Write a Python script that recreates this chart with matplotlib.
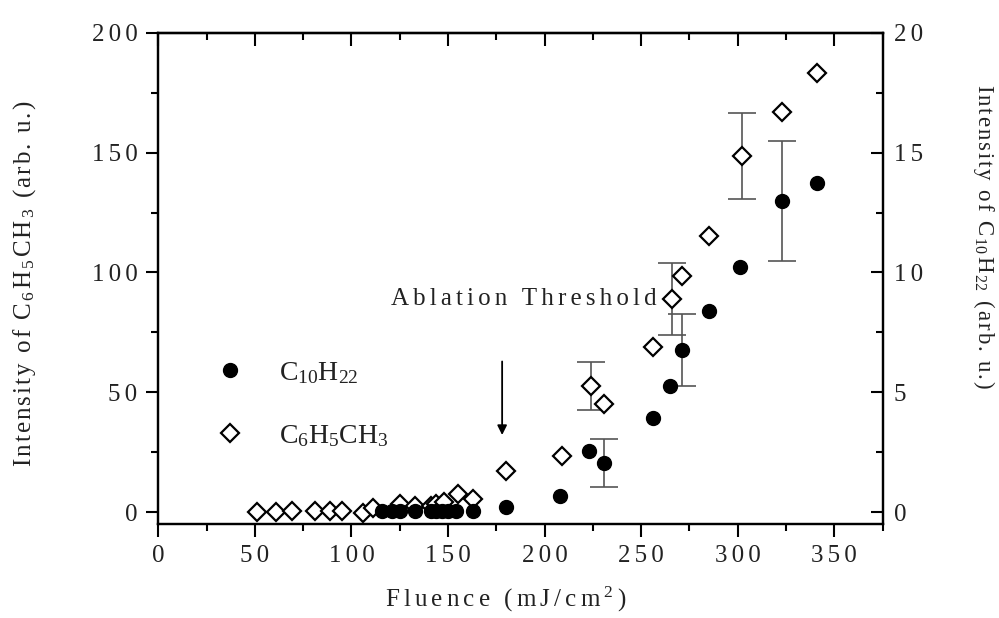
import matplotlib.pyplot as plt
from matplotlib.ticker import MultipleLocator, FuncFormatter

plt.rcParams['font.family'] = ['Liberation Serif', 'DejaVu Serif']
plt.rcParams['mathtext.default'] = 'regular'

# C6H5CH3 (left axis)
tol_x = [51, 61, 69, 81, 89, 95, 106, 111, 125, 133, 141, 144, 148, 155, 163,
         180, 209, 224, 231, 256, 266, 271, 285, 302, 323, 341]
tol_y = [0, 0, 0.5, 0.5, 0.5, 0.5, -0.5, 1.5, 3.5, 2.5, 2.5, 3.5, 4, 7.5, 5.5,
         17, 23.5, 52.5, 45, 69, 89, 98.5, 115, 148.5, 167, 183]
tol_err_x = [224, 266, 302]
tol_err_y = [52.5, 89, 148.5]
tol_err = [10, 15, 18]

# C10H22 (right axis)
dec_x = [116, 121, 125, 133, 141, 144, 147, 150, 154, 163,
         180, 208, 223, 231, 256, 265, 271, 285, 301, 323, 341]
dec_y = [0.05, 0.05, 0.05, 0.05, 0.05, 0.05, 0.05, 0.05, 0.05, 0.05,
         0.22, 0.66, 2.53, 2.03, 3.93, 5.25, 6.78, 8.38, 10.22, 12.98, 13.75]
dec_err_x = [231, 271, 323]
dec_err_y = [2.03, 6.78, 12.98]
dec_err = [1.0, 1.5, 2.5]

txt = '#222222'


def spaced(s, gap='\u2006'):
    # wide letter spacing like the scanned figure; math parts kept whole
    parts = s.split('$')
    out = []
    for i, p in enumerate(parts):
        if not p:
            continue
        if i % 2:
            out.append('$' + p + '$')
        else:
            out.append(gap.join(p))
    return gap.join(out)


fig = plt.figure(figsize=(9.99, 6.18), dpi=100)
ax = fig.add_axes([0.1585, 0.152, 0.725, 0.795])
ax2 = ax.twinx()

ax.errorbar(tol_err_x, tol_err_y, yerr=tol_err, fmt='none', ecolor='#555555',
            elinewidth=1.2, capsize=10, capthick=1.2, zorder=2)
ax.plot(tol_x, tol_y, 'D', ms=9, mfc='white', mec='black', mew=1.6, zorder=3)

ax2.errorbar(dec_err_x, dec_err_y, yerr=dec_err, fmt='none', ecolor='#555555',
             elinewidth=1.2, capsize=10, capthick=1.2, zorder=2)
ax2.plot(dec_x, dec_y, 'o', ms=10, mfc='black', mec='black', zorder=3)

ax.set_xlim(0, 375)
ax.set_ylim(-5, 200)
ax2.set_ylim(-0.5, 20)

ax.xaxis.set_major_locator(MultipleLocator(50))
ax.xaxis.set_minor_locator(MultipleLocator(25))
ax.yaxis.set_major_locator(MultipleLocator(50))
ax.yaxis.set_minor_locator(MultipleLocator(25))
ax2.yaxis.set_major_locator(MultipleLocator(5))
ax2.yaxis.set_minor_locator(MultipleLocator(2.5))

fmt = FuncFormatter(lambda v, pos: spaced('%d' % v))
ax.xaxis.set_major_formatter(fmt)
ax.yaxis.set_major_formatter(fmt)
ax2.yaxis.set_major_formatter(fmt)

ax.tick_params(which='both', direction='out', width=1.5, labelsize=18,
               labelcolor=txt, pad=6)
ax.tick_params(which='major', length=9)
ax.tick_params(which='minor', length=5)
ax2.tick_params(which='both', direction='in', width=1.5, labelsize=18,
                labelcolor=txt, pad=8)
ax2.tick_params(which='major', length=9)
ax2.tick_params(which='minor', length=5)

top = ax.secondary_xaxis('top')
top.xaxis.set_major_locator(MultipleLocator(50))
top.xaxis.set_minor_locator(MultipleLocator(25))
top.tick_params(which='both', direction='in', width=1.5, labeltop=False)
top.tick_params(which='major', length=9)
top.tick_params(which='minor', length=5)

for a in (ax, ax2):
    for s in a.spines.values():
        s.set_linewidth(1.6)
top.spines['top'].set_linewidth(1.6)

ax.set_xlabel(spaced('Fluence (mJ/cm$^2$)'), fontsize=18, color=txt,
              va='center')
ax.xaxis.set_label_coords(0.48, -0.153)
ax.set_ylabel(spaced('Intensity of C$_6$H$_5$CH$_3$ (arb. u.)', '\u200a'),
              fontsize=18, color=txt, va='center')
ax.yaxis.set_label_coords(-0.185, 0.49)
ax2.set_ylabel(spaced('Intensity of C$_{10}$H$_{22}$ (arb. u.)', '\u200a'),
               fontsize=16.5, color=txt, rotation=270, va='center')
ax2.yaxis.set_label_coords(1.14, 0.585)

h_dec = plt.Line2D([], [], ls='none', marker='o', ms=10, mfc='black', mec='black')
h_tol = plt.Line2D([], [], ls='none', marker='D', ms=9, mfc='white', mec='black', mew=1.6)
ax.legend([h_dec, h_tol], ['C$_{10}$H$_{22}$', 'C$_6$H$_5$CH$_3$'],
          loc='upper left', bbox_to_anchor=(0.026, 0.385), frameon=False,
          fontsize=20, labelspacing=1.35, handletextpad=0.75, labelcolor=txt)

ax.annotate('', xy=(178, 31), xytext=(178, 64),
            arrowprops=dict(arrowstyle='-|>', color='black', lw=1.3,
                            mutation_scale=14))
ax.text(258, 89, spaced('Ablation Threshold'), fontsize=18, color=txt,
        ha='right', va='center')

fig.savefig('out.png', dpi=100)
